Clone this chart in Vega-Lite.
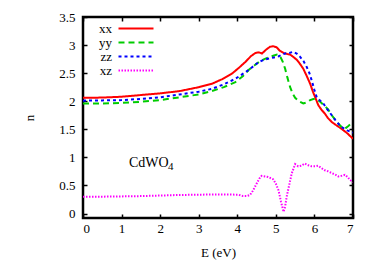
{
 "$schema": "https://vega.github.io/schema/vega-lite/v6.json",
 "width": 270, "height": 201,
 "autosize": {"type": "none"},
 "padding": {"left": 83, "top": 17, "right": 21, "bottom": 44},
 "background": "white",
 "config": {
  "font": "Liberation Serif",
  "view": {"stroke": "#000", "strokeWidth": 2.5},
  "axis": {"domain": false, "grid": false, "tickColor": "#000", "tickWidth": 1.5, "tickSize": -4,
           "labelFont": "Liberation Serif", "labelFontSize": 13, "labelColor": "#000",
           "titleFont": "Liberation Serif", "titleFontSize": 13, "titleFontWeight": "normal", "titleColor": "#000"}
 },
 "data": {"values": [
  {"E":0,"n":2.06,"s":"xx"},{"E":0.5,"n":2.065,"s":"xx"},{"E":1,"n":2.08,"s":"xx"},{"E":1.5,"n":2.11,"s":"xx"},{"E":2,"n":2.14,"s":"xx"},{"E":2.5,"n":2.18,"s":"xx"},{"E":3,"n":2.25,"s":"xx"},{"E":3.34,"n":2.31,"s":"xx"},{"E":3.6,"n":2.39,"s":"xx"},{"E":3.86,"n":2.49,"s":"xx"},{"E":4.05,"n":2.6,"s":"xx"},{"E":4.21,"n":2.7,"s":"xx"},{"E":4.35,"n":2.8,"s":"xx"},{"E":4.47,"n":2.86,"s":"xx"},{"E":4.56,"n":2.87,"s":"xx"},{"E":4.64,"n":2.85,"s":"xx"},{"E":4.75,"n":2.92,"s":"xx"},{"E":4.85,"n":2.97,"s":"xx"},{"E":4.93,"n":2.98,"s":"xx"},{"E":5.02,"n":2.96,"s":"xx"},{"E":5.1,"n":2.9,"s":"xx"},{"E":5.2,"n":2.86,"s":"xx"},{"E":5.3,"n":2.84,"s":"xx"},{"E":5.37,"n":2.83,"s":"xx"},{"E":5.45,"n":2.79,"s":"xx"},{"E":5.54,"n":2.74,"s":"xx"},{"E":5.62,"n":2.67,"s":"xx"},{"E":5.71,"n":2.58,"s":"xx"},{"E":5.8,"n":2.45,"s":"xx"},{"E":5.89,"n":2.31,"s":"xx"},{"E":5.96,"n":2.17,"s":"xx"},{"E":6.02,"n":2.07,"s":"xx"},{"E":6.1,"n":1.93,"s":"xx"},{"E":6.18,"n":1.85,"s":"xx"},{"E":6.27,"n":1.78,"s":"xx"},{"E":6.35,"n":1.7,"s":"xx"},{"E":6.45,"n":1.63,"s":"xx"},{"E":6.55,"n":1.58,"s":"xx"},{"E":6.7,"n":1.51,"s":"xx"},{"E":6.85,"n":1.43,"s":"xx"},{"E":7,"n":1.33,"s":"xx"},

  {"E":0,"n":1.96,"s":"yy"},{"E":0.5,"n":1.96,"s":"yy"},{"E":1,"n":1.97,"s":"yy"},{"E":1.5,"n":1.99,"s":"yy"},{"E":2,"n":2.02,"s":"yy"},{"E":2.5,"n":2.07,"s":"yy"},{"E":3,"n":2.12,"s":"yy"},{"E":3.34,"n":2.18,"s":"yy"},{"E":3.65,"n":2.25,"s":"yy"},{"E":3.95,"n":2.34,"s":"yy"},{"E":4.15,"n":2.45,"s":"yy"},{"E":4.3,"n":2.56,"s":"yy"},{"E":4.45,"n":2.64,"s":"yy"},{"E":4.56,"n":2.7,"s":"yy"},{"E":4.7,"n":2.75,"s":"yy"},{"E":4.82,"n":2.78,"s":"yy"},{"E":4.93,"n":2.81,"s":"yy"},{"E":5.03,"n":2.83,"s":"yy"},{"E":5.11,"n":2.8,"s":"yy"},{"E":5.18,"n":2.7,"s":"yy"},{"E":5.24,"n":2.58,"s":"yy"},{"E":5.3,"n":2.42,"s":"yy"},{"E":5.37,"n":2.25,"s":"yy"},{"E":5.44,"n":2.13,"s":"yy"},{"E":5.5,"n":2.06,"s":"yy"},{"E":5.6,"n":2.0,"s":"yy"},{"E":5.71,"n":1.96,"s":"yy"},{"E":5.8,"n":1.98,"s":"yy"},{"E":5.89,"n":2.02,"s":"yy"},{"E":5.97,"n":2.04,"s":"yy"},{"E":6.05,"n":2.04,"s":"yy"},{"E":6.15,"n":1.99,"s":"yy"},{"E":6.27,"n":1.91,"s":"yy"},{"E":6.35,"n":1.86,"s":"yy"},{"E":6.45,"n":1.75,"s":"yy"},{"E":6.55,"n":1.66,"s":"yy"},{"E":6.62,"n":1.6,"s":"yy"},{"E":6.72,"n":1.53,"s":"yy"},{"E":6.79,"n":1.51,"s":"yy"},{"E":6.88,"n":1.56,"s":"yy"},{"E":7,"n":1.63,"s":"yy"},

  {"E":0,"n":2.01,"s":"zz"},{"E":0.5,"n":2.015,"s":"zz"},{"E":1,"n":2.02,"s":"zz"},{"E":1.5,"n":2.04,"s":"zz"},{"E":2,"n":2.07,"s":"zz"},{"E":2.5,"n":2.12,"s":"zz"},{"E":3,"n":2.17,"s":"zz"},{"E":3.34,"n":2.22,"s":"zz"},{"E":3.65,"n":2.3,"s":"zz"},{"E":3.95,"n":2.4,"s":"zz"},{"E":4.15,"n":2.49,"s":"zz"},{"E":4.3,"n":2.56,"s":"zz"},{"E":4.45,"n":2.64,"s":"zz"},{"E":4.56,"n":2.7,"s":"zz"},{"E":4.7,"n":2.74,"s":"zz"},{"E":4.82,"n":2.76,"s":"zz"},{"E":4.95,"n":2.78,"s":"zz"},{"E":5.07,"n":2.8,"s":"zz"},{"E":5.16,"n":2.83,"s":"zz"},{"E":5.24,"n":2.85,"s":"zz"},{"E":5.35,"n":2.86,"s":"zz"},{"E":5.45,"n":2.88,"s":"zz"},{"E":5.54,"n":2.85,"s":"zz"},{"E":5.63,"n":2.79,"s":"zz"},{"E":5.72,"n":2.71,"s":"zz"},{"E":5.8,"n":2.61,"s":"zz"},{"E":5.87,"n":2.5,"s":"zz"},{"E":5.93,"n":2.37,"s":"zz"},{"E":6.0,"n":2.2,"s":"zz"},{"E":6.06,"n":2.07,"s":"zz"},{"E":6.15,"n":2.01,"s":"zz"},{"E":6.23,"n":1.96,"s":"zz"},{"E":6.33,"n":1.86,"s":"zz"},{"E":6.45,"n":1.75,"s":"zz"},{"E":6.58,"n":1.63,"s":"zz"},{"E":6.7,"n":1.54,"s":"zz"},{"E":6.85,"n":1.48,"s":"zz"},{"E":7,"n":1.44,"s":"zz"},

  {"E":0,"n":0.3,"s":"xz"},{"E":0.5,"n":0.3,"s":"xz"},{"E":1,"n":0.305,"s":"xz"},{"E":1.5,"n":0.31,"s":"xz"},{"E":2,"n":0.32,"s":"xz"},{"E":2.5,"n":0.33,"s":"xz"},{"E":3,"n":0.335,"s":"xz"},{"E":3.5,"n":0.34,"s":"xz"},{"E":4.03,"n":0.335,"s":"xz"},{"E":4.15,"n":0.31,"s":"xz"},{"E":4.24,"n":0.31,"s":"xz"},{"E":4.33,"n":0.33,"s":"xz"},{"E":4.4,"n":0.4,"s":"xz"},{"E":4.5,"n":0.53,"s":"xz"},{"E":4.57,"n":0.62,"s":"xz"},{"E":4.63,"n":0.67,"s":"xz"},{"E":4.72,"n":0.66,"s":"xz"},{"E":4.8,"n":0.65,"s":"xz"},{"E":4.93,"n":0.61,"s":"xz"},{"E":5.0,"n":0.53,"s":"xz"},{"E":5.07,"n":0.41,"s":"xz"},{"E":5.13,"n":0.22,"s":"xz"},{"E":5.2,"n":0.03,"s":"xz"},{"E":5.24,"n":0.12,"s":"xz"},{"E":5.28,"n":0.3,"s":"xz"},{"E":5.35,"n":0.52,"s":"xz"},{"E":5.41,"n":0.71,"s":"xz"},{"E":5.5,"n":0.88,"s":"xz"},{"E":5.58,"n":0.84,"s":"xz"},{"E":5.66,"n":0.85,"s":"xz"},{"E":5.75,"n":0.89,"s":"xz"},{"E":5.84,"n":0.86,"s":"xz"},{"E":5.93,"n":0.84,"s":"xz"},{"E":6.02,"n":0.84,"s":"xz"},{"E":6.1,"n":0.85,"s":"xz"},{"E":6.18,"n":0.81,"s":"xz"},{"E":6.27,"n":0.77,"s":"xz"},{"E":6.36,"n":0.75,"s":"xz"},{"E":6.45,"n":0.72,"s":"xz"},{"E":6.55,"n":0.69,"s":"xz"},{"E":6.62,"n":0.66,"s":"xz"},{"E":6.7,"n":0.67,"s":"xz"},{"E":6.79,"n":0.69,"s":"xz"},{"E":6.86,"n":0.65,"s":"xz"},{"E":6.92,"n":0.6,"s":"xz"},{"E":7,"n":0.56,"s":"xz"}
 ]},
 "layer": [
  {
   "mark": {"type": "line", "clip": true},
   "encoding": {
    "x": {"field": "E", "type": "quantitative", "scale": {"domain": [0, 7], "nice": false, "zero": false},
          "axis": {"values": [0,1,2,3,4,5,6,7], "format": "~g", "title": "E (eV)", "labelPadding": 8, "titlePadding": 11}},
    "y": {"field": "n", "type": "quantitative", "scale": {"domain": [-0.08, 3.5], "nice": false, "zero": false},
          "axis": {"values": [0,0.5,1,1.5,2,2.5,3,3.5], "format": "~g", "title": "n", "labelPadding": 12, "titlePadding": 22}},
    "color": {"field": "s", "type": "nominal",
              "scale": {"domain": ["xx","yy","zz","xz"], "range": ["#ff0000","#00cc00","#0000ff","#ff00ff"]},
              "legend": {"title": null, "orient": "none", "legendX": 29, "legendY": 5, "direction": "vertical",
                         "symbolType": "M0,0H10", "symbolSize": 49, "symbolStrokeWidth": 2,
                         "labelAlign": "right", "labelOffset": -13, "labelFont": "Liberation Serif",
                         "labelFontSize": 13, "labelColor": "#000", "rowPadding": 0, "padding": 0}},
    "strokeDash": {"field": "s", "type": "nominal",
                   "scale": {"domain": ["xx","yy","zz","xz"], "range": [[1,0],[6,4],[3,3],[1.5,1.5]]},
                   "legend": {"title": null, "orient": "none", "legendX": 29, "legendY": 5, "direction": "vertical",
                         "symbolType": "M0,0H10", "symbolSize": 49, "symbolStrokeWidth": 2,
                         "labelAlign": "right", "labelOffset": -13, "labelFont": "Liberation Serif",
                         "labelFontSize": 13, "labelColor": "#000", "rowPadding": 0, "padding": 0}},
    "strokeWidth": {"field": "s", "type": "nominal",
                    "scale": {"domain": ["xx","yy","zz","xz"], "range": [2,2,2,1.6]}, "legend": null}
   }
  },
  {
   "mark": {"type": "line", "opacity": 0},
   "encoding": {
    "x": {"field": "E", "type": "quantitative", "axis": {"orient": "top", "values": [0,1,2,3,4,5,6,7], "labels": false, "title": null}},
    "y": {"field": "n", "type": "quantitative", "axis": {"orient": "right", "values": [0,0.5,1,1.5,2,2.5,3,3.5], "labels": false, "title": null}}
   }
  },
  {
   "data": {"values": [{}]},
   "mark": {"type": "text", "align": "left", "baseline": "middle", "font": "Liberation Serif", "fontSize": 14, "color": "#000"},
   "encoding": {
    "x": {"datum": 1.19, "type": "quantitative", "axis": null},
    "y": {"datum": 0.9, "type": "quantitative", "axis": null},
    "text": {"value": "CdWO"}
   }
  },
  {
   "data": {"values": [{}]},
   "mark": {"type": "text", "align": "left", "baseline": "middle", "font": "Liberation Serif", "fontSize": 11, "color": "#000", "dx": 39, "dy": 4},
   "encoding": {
    "x": {"datum": 1.19, "type": "quantitative", "axis": null},
    "y": {"datum": 0.9, "type": "quantitative", "axis": null},
    "text": {"value": "4"}
   }
  }
 ],
 "resolve": {"axis": {"x": "independent", "y": "independent"}}
}
